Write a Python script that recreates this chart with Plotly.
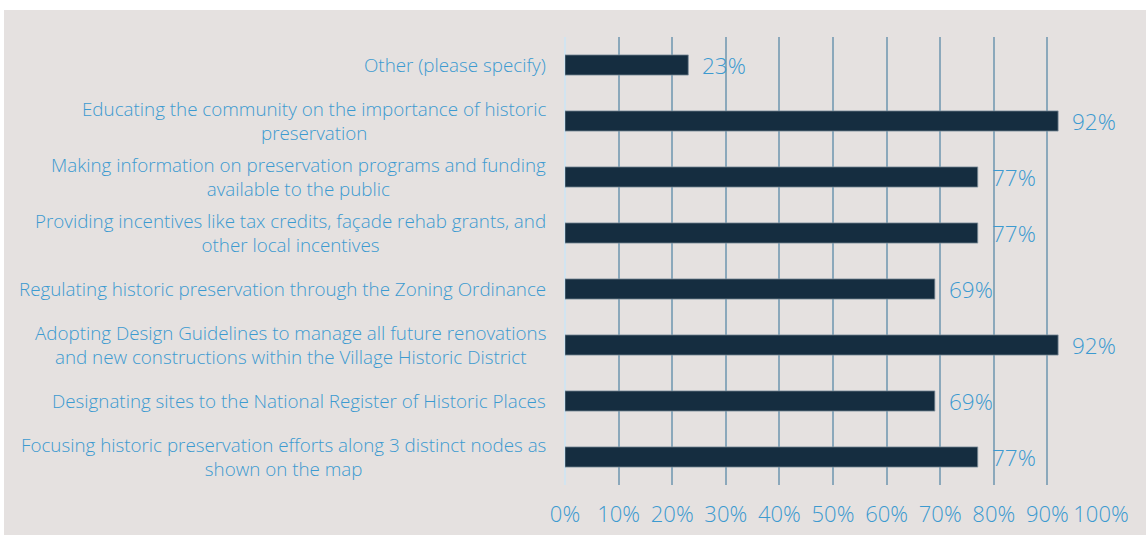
import plotly.graph_objects as go

categories = [
    "Other (please specify)",
    "Educating the community on the importance of historic<br>preservation",
    "Making information on preservation programs and funding<br>available to the public",
    "Providing incentives like tax credits, façade rehab grants, and<br>other local incentives",
    "Regulating historic preservation through the Zoning Ordinance",
    "Adopting Design Guidelines to manage all future renovations<br>and new constructions within the Village Historic District",
    "Designating sites to the National Register of Historic Places",
    "Focusing historic preservation efforts along 3 distinct nodes as<br>shown on the map",
]
values = [23, 92, 77, 77, 69, 92, 69, 77]
tick_vals = [0, 10, 20, 30, 40, 50, 60, 70, 80, 90, 100]
tick_text = ["0%", "10%", "20%", "30%", "40%", "50%", "60%", "70%", "80%", "90%", "100%"]

W, H = 1146, 535
ML, MR, MT, MB = 565, 45, 37, 50
BG = "#e5e1e0"
TXT = "#3c9ad0"
FONT = "Open Sans, Noto Sans, sans-serif"

fig = go.Figure()
fig.add_trace(go.Bar(
    x=values, y=categories, orientation="h",
    marker=dict(color="#152d40", line=dict(color="#7d8f9c", width=0.8)),
    hoverinfo="skip",
))

annotations = []
for c, v in zip(categories, values):
    annotations.append(dict(
        x=0, xref="paper", y=c, yref="y", text=c, showarrow=False,
        xanchor="right", yanchor="middle", align="center", xshift=-17,
        font=dict(family=FONT, size=18.8, color=TXT, weight=300),
    ))
    annotations.append(dict(
        x=v, xref="x", y=c, yref="y", text=f"{v}%", showarrow=False,
        xanchor="left", yanchor="middle", xshift=12,
        font=dict(family=FONT, size=22.5, color=TXT, weight=300),
    ))

pw = W - ML - MR
ph = H - MT - MB
def px_x(p):
    return (p - ML) / pw
def px_y(p):
    return (H - MB - p) / ph

shapes = [
    dict(type="rect", xref="paper", yref="paper", x0=px_x(0), x1=px_x(W), y0=px_y(10), y1=px_y(0),
         fillcolor="white", line=dict(width=0), layer="below"),
    dict(type="rect", xref="paper", yref="paper", x0=px_x(0), x1=px_x(4), y0=px_y(H), y1=px_y(0),
         fillcolor="white", line=dict(width=0), layer="below"),
]

fig.update_layout(
    width=W, height=H, autosize=False,
    margin=dict(l=ML, r=MR, t=MT, b=MB, pad=0),
    paper_bgcolor=BG, plot_bgcolor=BG,
    showlegend=False,
    bargap=0.64,
    annotations=annotations,
    shapes=shapes,
    font=dict(family=FONT, color=TXT),
    xaxis=dict(
        range=[0, 100], tickvals=tick_vals, ticktext=tick_text,
        showgrid=True, gridcolor="#8ba8bb", gridwidth=2,
        zeroline=True, zerolinecolor="#d2e4f0", zerolinewidth=1.5,
        showline=False, ticks="", ticklabelstandoff=14, automargin=False,
        tickfont=dict(family=FONT, size=22, color=TXT, weight=300), fixedrange=True,
    ),
    yaxis=dict(
        categoryorder="array", categoryarray=categories, autorange="reversed",
        showticklabels=False, showgrid=False, zeroline=False, showline=False,
        automargin=False, fixedrange=True,
    ),
)

fig.write_html("out.html", config={"displayModeBar": False},
               post_script="document.body.style.margin='0';document.body.style.overflow='hidden';")
